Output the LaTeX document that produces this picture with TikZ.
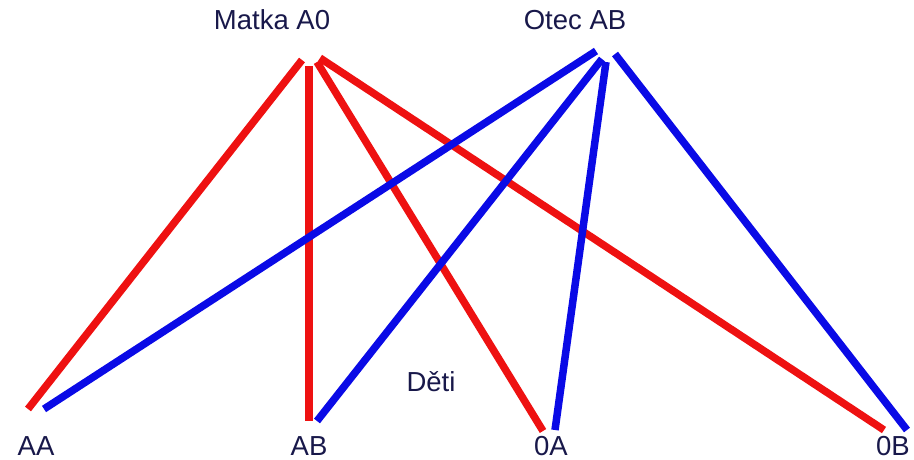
\documentclass[tikz,border=0pt]{standalone}
\usepackage{fontspec}
\setmainfont{Liberation Sans}
\definecolor{txt}{HTML}{18184A}
\definecolor{lred}{HTML}{EE1111}
\definecolor{lblue}{HTML}{0A0AE6}
\begin{document}
\begin{tikzpicture}[x=1pt,y=-1pt,
  lab/.style={text=txt,font=\fontsize{27.5}{30}\selectfont,anchor=base,inner sep=0pt},
  redl/.style={draw=lred,line width=7.5pt},
  bluel/.style={draw=lblue,line width=7.5pt}]
\useasboundingbox (0,0) rectangle (914,459);
\node[lab] (matka) at (272,29) {Matka A0};
\node[lab] (otec) at (575,29) {Otec AB};
\node[lab] (aa) at (36,455) {AA};
\node[lab] (ab) at (309,455) {AB};
\node[lab] (oa) at (551,455) {0A};
\node[lab] (ob) at (893,455) {0B};
\node[lab] (deti) at (431,391) {Děti};
% red endpoints (mother)
\coordinate (m1) at (302,60);
\coordinate (m2) at (309,66);
\coordinate (m3) at (317,62);
\coordinate (m4) at (320,58);
\coordinate (ra) at (28,409);
\coordinate (rb) at (309,421);
\coordinate (ro) at (543,431);
\coordinate (r0b) at (884,430);
% blue endpoints (father)
\coordinate (f1) at (596,51);
\coordinate (f2) at (602,59);
\coordinate (f3) at (606,62);
\coordinate (f4) at (615,54);
\coordinate (ba) at (44,409);
\coordinate (bb) at (317,421);
\coordinate (bo) at (555,430);
\coordinate (b0b) at (907,430);
\draw[redl] (m1) -- (ra);
\draw[redl] (m2) -- (rb);
\draw[redl] (m3) -- (ro);
\draw[redl] (m4) -- (r0b);
\draw[bluel] (f1) -- (ba);
\draw[bluel] (f2) -- (bb);
\draw[bluel] (f3) -- (bo);
\draw[bluel] (f4) -- (b0b);
\end{tikzpicture}
\end{document}
